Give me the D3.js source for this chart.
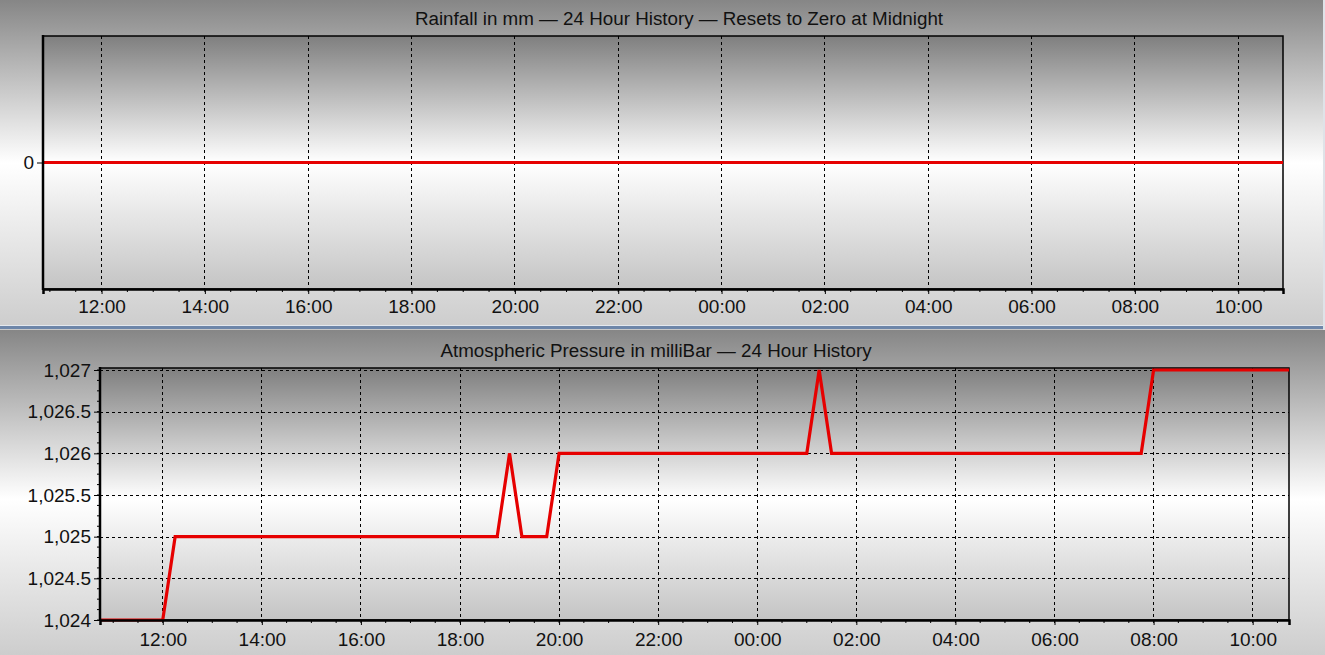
<!DOCTYPE html>
<html>
<head>
<meta charset="utf-8">
<script src="https://cdn.jsdelivr.net/npm/d3@7"></script>
<style>
  body { margin: 0; background: #c8c8c8; }
  svg { display: block; font-family: "Liberation Sans", Arial, sans-serif; }
</style>
</head>
<body>
<svg id="chart"></svg>
<script>
// ---- data ----
const rainTitle = "Rainfall in mm \u2014 24 Hour History \u2014 Resets to Zero at Midnight";
const rainTimes = ["2024-01-01T10:52", "2024-01-02T10:52"];
const rainValues = [0, 0];
const rainTicks = [0];

const pressureTitle = "Atmospheric Pressure in milliBar \u2014 24 Hour History";
const pressureTimes = [
  "2024-01-01T10:44", "2024-01-01T12:00", "2024-01-01T12:15", "2024-01-01T18:45",
  "2024-01-01T19:00", "2024-01-01T19:15", "2024-01-01T19:45", "2024-01-01T20:00",
  "2024-01-02T01:00", "2024-01-02T01:15", "2024-01-02T01:30", "2024-01-02T07:45",
  "2024-01-02T08:00", "2024-01-02T10:44"
];
const pressureValues = [1024, 1024, 1025, 1025, 1026, 1025, 1025, 1026, 1026, 1027, 1026, 1026, 1027, 1027];
const pressureTicks = [1024, 1024.5, 1025, 1025.5, 1026, 1026.5, 1027];

const parseTime = d3.timeParse("%Y-%m-%dT%H:%M");

class HistoryChart {
  constructor(_config, _times, _values) {
    this.config = {
      parent: _config.parent,
      id: _config.id,
      top: _config.top,
      height: _config.height,
      width: _config.width || 1325,
      plot: _config.plot,           // {left, top, right, bottom}
      start: _config.start,
      end: _config.end,
      yDomain: _config.yDomain,
      yTicks: _config.yTicks,
      yMinor: _config.yMinor || [],
      hGrid: _config.hGrid,
      xPad: _config.xPad || 6,
      title: _config.title,
      titleX: _config.titleX,
      titleY: _config.titleY,
      whiteAt: _config.whiteAt || 0.5
    };
    this.data = _times.map((t, i) => ({ time: parseTime(t), value: _values[i] }));
    this.initVis();
  }

  initVis() {
    let vis = this;
    const c = vis.config;
    const p = c.plot;

    vis.g = c.parent.append("g").attr("transform", `translate(0,${c.top})`);

    // gradients for panel and plot area
    const defs = c.parent.select("defs");
    const addGrad = (id, stops) => {
      const gr = defs.append("linearGradient").attr("id", id)
        .attr("x1", 0).attr("y1", 0).attr("x2", 0).attr("y2", 1);
      stops.forEach(s => gr.append("stop").attr("offset", s[0]).attr("stop-color", s[1]));
    };
    addGrad(c.id + "-bg", [[0, "#868686"], [c.whiteAt, "#ffffff"], [1, "#cdcdcd"]]);
    addGrad(c.id + "-plot", [[0, "#7f7f7f"], [c.whiteAt, "#ffffff"], [1, "#c4c4c4"]]);

    vis.g.append("rect")
      .attr("width", c.width).attr("height", c.height)
      .attr("fill", `url(#${c.id}-bg)`);

    vis.g.append("rect")
      .attr("x", p.left).attr("y", p.top)
      .attr("width", p.right - p.left).attr("height", p.bottom - p.top)
      .attr("fill", `url(#${c.id}-plot)`);

    vis.xScale = d3.scaleTime()
      .domain([parseTime(c.start), parseTime(c.end)])
      .range([p.left, p.right]);

    vis.yScale = d3.scaleLinear()
      .domain(c.yDomain)
      .range([p.bottom, p.top]);

    vis.renderVis();
  }

  renderVis() {
    let vis = this;
    const c = vis.config;
    const p = c.plot;

    const hours = vis.xScale.ticks(d3.timeHour.every(2));
    const halfHours = vis.xScale.ticks(d3.timeMinute.every(30));

    // vertical grid
    vis.g.append("g").selectAll("line")
      .data(hours)
      .join("line")
        .attr("x1", d => vis.xScale(d)).attr("x2", d => vis.xScale(d))
        .attr("y1", p.top).attr("y2", p.bottom)
        .attr("stroke", "#000").attr("stroke-width", 1)
        .attr("stroke-dasharray", "3,3")
        .attr("shape-rendering", "crispEdges");

    // horizontal grid
    if (c.hGrid) {
      vis.g.append("g").selectAll("line")
        .data(c.yTicks)
        .join("line")
          .attr("x1", p.left).attr("x2", p.right)
          .attr("y1", d => Math.round(vis.yScale(d)) + 0.5).attr("y2", d => Math.round(vis.yScale(d)) + 0.5)
          .attr("stroke", "#000").attr("stroke-width", 1)
          .attr("stroke-dasharray", "3,3");
    }

    // frame
    vis.g.append("rect")
      .attr("x", p.left).attr("y", p.top)
      .attr("width", p.right - p.left).attr("height", p.bottom - p.top)
      .attr("fill", "none").attr("stroke", "#000").attr("stroke-width", 1.5);

    // data line
    vis.g.append("path")
      .datum(vis.data)
      .attr("fill", "none")
      .attr("stroke", "#e60000")
      .attr("stroke-width", 3.2)
      .attr("stroke-linejoin", "miter")
      .attr("d", d3.line()
        .x(d => vis.xScale(d.time))
        .y(d => vis.yScale(d.value)));

    // x axis
    const xAxis = d3.axisBottom(vis.xScale)
      .tickValues(hours)
      .tickSize(5)
      .tickPadding(c.xPad)
      .tickFormat(d3.timeFormat("%H:%M"));
    const xG = vis.g.append("g")
      .attr("transform", `translate(0,${p.bottom})`)
      .call(xAxis);
    xG.select(".domain").attr("stroke-width", 2.5);
    xG.selectAll("text").attr("font-size", "19px").attr("fill", "#111");

    vis.g.append("g").selectAll("line")
      .data(halfHours)
      .join("line")
        .attr("x1", d => vis.xScale(d)).attr("x2", d => vis.xScale(d))
        .attr("y1", p.bottom).attr("y2", p.bottom + 3)
        .attr("stroke", "#000");

    // y axis
    const yAxis = d3.axisLeft(vis.yScale)
      .tickValues(c.yTicks)
      .tickSize(6)
      .tickPadding(3)
      .tickFormat(d3.format(","));
    const yG = vis.g.append("g")
      .attr("transform", `translate(${p.left},0)`)
      .call(yAxis);
    yG.select(".domain").remove();
    yG.selectAll("text").attr("font-size", "19px").attr("fill", "#111");
    vis.g.append("line")
      .attr("x1", p.left).attr("x2", p.left)
      .attr("y1", p.top - 1).attr("y2", p.bottom + 1)
      .attr("stroke", "#000").attr("stroke-width", 2.5);

    vis.g.append("g").selectAll("line")
      .data(c.yMinor)
      .join("line")
        .attr("x1", p.left - 3).attr("x2", p.left)
        .attr("y1", d => vis.yScale(d)).attr("y2", d => vis.yScale(d))
        .attr("stroke", "#000");

    // title
    vis.g.append("text")
      .attr("x", c.titleX).attr("y", c.titleY)
      .attr("text-anchor", "middle")
      .attr("font-size", "18.8px")
      .attr("fill", "#111")
      .text(c.title);
  }
}

const svg = d3.select("#chart").attr("width", 1325).attr("height", 655);
svg.append("defs");

new HistoryChart({
  parent: svg, id: "rain", top: 0, height: 326, width: 1323,
  plot: { left: 43, top: 36, right: 1283, bottom: 289 },
  start: "2024-01-01T10:52", end: "2024-01-02T10:52",
  yDomain: [-1, 1], yTicks: rainTicks, hGrid: false, xPad: 6,
  title: rainTitle, titleX: 679, titleY: 25, whiteAt: 0.5
}, rainTimes, rainValues);

// minor pressure ticks every 0.125 mb
const pressureMinor = d3.range(1024, 1027.001, 0.125);

new HistoryChart({
  parent: svg, id: "pres", top: 330, height: 325,
  plot: { left: 100, top: 38, right: 1289, bottom: 290 },
  start: "2024-01-01T10:44", end: "2024-01-02T10:44",
  yDomain: [1024, 1027.024], yTicks: pressureTicks, yMinor: pressureMinor, hGrid: true, xPad: 8,
  title: pressureTitle, titleX: 656, titleY: 27, whiteAt: 0.52
}, pressureTimes, pressureValues);

// panel separator and right edge strip
svg.append("rect").attr("x", 0).attr("y", 325).attr("width", 1323).attr("height", 1).attr("fill", "#e4e8ee");
svg.append("rect").attr("x", 0).attr("y", 326).attr("width", 1323).attr("height", 3).attr("fill", "#6d86a9");
svg.append("rect").attr("x", 1323).attr("y", 0).attr("width", 2).attr("height", 330).attr("fill", "#dfe3e8");
</script>
</body>
</html>
